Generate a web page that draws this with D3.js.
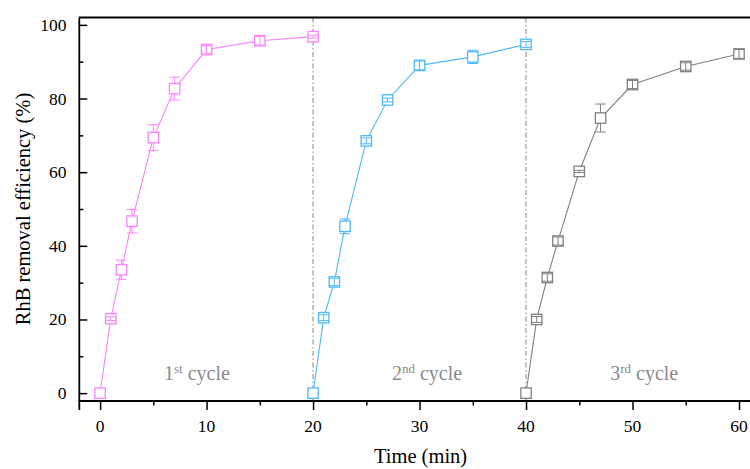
<!DOCTYPE html>
<html>
<head>
<meta charset="utf-8">
<script src="https://cdn.jsdelivr.net/npm/d3@7"></script>
<style>
  html, body { margin: 0; padding: 0; background: #fff; }
  svg { display: block; }
</style>
</head>
<body>
<svg id="chart" width="750" height="469" font-family="Liberation Serif, Times New Roman, serif"></svg>
<script>
// RhB removal efficiency over three consecutive adsorption cycles
const cycle1Time = [0, 1, 2, 3, 5, 7, 10, 15, 20];
const cycle1Eff  = [0, 20.2, 33.5, 46.7, 69.4, 82.7, 93.3, 95.7, 96.8];
const cycle1Err  = [0, 0.5, 2.6, 3.2, 3.5, 3.1, 1.0, 1.2, 0.4];

const cycle2Time = [20, 21, 22, 23, 25, 27, 30, 35, 40];
const cycle2Eff  = [0, 20.5, 30.2, 45.3, 68.5, 79.6, 89.0, 91.3, 94.7];
const cycle2Err  = [0, 0.8, 1.0, 2.0, 0.8, 0.5, 1.2, 1.8, 0.8];

const cycle3Time = [40, 41, 42, 43, 45, 47, 50, 55, 60];
const cycle3Eff  = [0, 20.0, 31.4, 41.3, 60.2, 74.7, 83.8, 88.7, 92.1];
const cycle3Err  = [0, 0.8, 1.0, 1.1, 0.3, 3.8, 1.1, 1.0, 1.2];

const cycleColors = ["#ff80ff", "#4db8ff", "#808080"];
const cycleNames  = ["1", "2", "3"];
const cycleSups   = ["st", "nd", "rd"];
const cycleWord   = " cycle";
const cycleBreaks = [20, 40];

const xTicks = [0, 10, 20, 30, 40, 50, 60];
const xMinorTicks = [5, 15, 25, 35, 45, 55];
const yTicks = [0, 20, 40, 60, 80, 100];
const yMinorTicks = [10, 30, 50, 70, 90];

const xTitle = "Time (min)";
const yTitle = "RhB removal efficiency (%)";

// layout
const plot = { left: 78.8, right: 760.3, top: 17.5, bottom: 400.5 };
const labelAnchors = [[9.1, 3.6], [30.7, 3.6], [51.1, 3.6]];
const serif = "Liberation Serif, Times New Roman, serif";

const svg = d3.select("#chart");
const x = d3.scaleLinear().domain([-2, 62]).range([plot.left, plot.right]);
const y = d3.scaleLinear().domain([-2, 102]).range([plot.bottom, plot.top]);

const series = [
  { t: cycle1Time, v: cycle1Eff, e: cycle1Err },
  { t: cycle2Time, v: cycle2Eff, e: cycle2Err },
  { t: cycle3Time, v: cycle3Eff, e: cycle3Err }
].map((s, i) => ({
  color: cycleColors[i],
  points: s.t.map((t, j) => ({ t, v: s.v[j], e: s.e[j] }))
}));

// cycle separators
svg.append("g").selectAll("line").data(cycleBreaks).join("line")
  .attr("x1", d => x(d)).attr("x2", d => x(d))
  .attr("y1", plot.top).attr("y2", plot.bottom)
  .attr("stroke", "#a8a8a8").attr("stroke-width", 1.4)
  .attr("stroke-dasharray", "5,2.5,1.5,2.5");

// cycle labels
const labels = svg.append("g").attr("fill", "#8a8a8a").attr("font-size", 20);
labelAnchors.forEach((p, i) => {
  const txt = labels.append("text")
    .attr("x", x(p[0])).attr("y", y(p[1]))
    .attr("text-anchor", "middle");
  txt.append("tspan").text(cycleNames[i]);
  txt.append("tspan").attr("font-size", 13).attr("dy", -7).text(cycleSups[i]);
  txt.append("tspan").attr("dy", 7).text(cycleWord);
});

const line = d3.line().x(d => x(d.t)).y(d => y(d.v));
const box = 10.4, half = box / 2;

series.forEach(s => {
  const g = svg.append("g");
  g.append("path").datum(s.points)
    .attr("d", line).attr("fill", "none")
    .attr("stroke", s.color).attr("stroke-width", 1.1);

  g.selectAll("rect").data(s.points).join("rect")
    .attr("x", d => x(d.t) - half).attr("y", d => y(d.v) - half)
    .attr("width", box).attr("height", box)
    .attr("fill", "#fff").attr("stroke", s.color).attr("stroke-width", 1.3);

  // error bars: stems stop at the marker edge unless fully inside it
  const eb = g.append("g").attr("stroke", s.color).attr("stroke-width", 1);
  s.points.filter(d => d.e > 0).forEach(d => {
    const cx = x(d.t), cy = y(d.v);
    const top = y(d.v + d.e), bot = y(d.v - d.e);
    const dpx = cy - top;
    if (dpx <= half) {
      eb.append("line").attr("x1", cx).attr("x2", cx).attr("y1", top).attr("y2", bot);
    } else {
      eb.append("line").attr("x1", cx).attr("x2", cx).attr("y1", top).attr("y2", cy - half);
      eb.append("line").attr("x1", cx).attr("x2", cx).attr("y1", cy + half).attr("y2", bot);
    }
    [top, bot].forEach(yy => eb.append("line")
      .attr("x1", cx - half).attr("x2", cx + half).attr("y1", yy).attr("y2", yy));
  });
});

// axis lines and tick marks
svg.append("g").attr("transform", `translate(0,${plot.bottom})`)
  .call(d3.axisBottom(x).tickValues(xTicks).tickFormat("").tickSize(9.5));
svg.append("g").attr("transform", `translate(0,${plot.bottom})`)
  .call(d3.axisBottom(x).tickValues(xMinorTicks).tickFormat("").tickSize(5))
  .call(g => g.select(".domain").remove());
svg.append("g").attr("transform", `translate(${plot.left},0)`)
  .call(d3.axisLeft(y).tickValues(yTicks).tickFormat("").tickSizeInner(-8.5).tickSizeOuter(0));
svg.append("g").attr("transform", `translate(${plot.left},0)`)
  .call(d3.axisLeft(y).tickValues(yMinorTicks).tickFormat("").tickSizeInner(-4.5).tickSizeOuter(0))
  .call(g => g.select(".domain").remove());

svg.selectAll(".domain").attr("stroke", "#000").attr("stroke-width", 1.8);
svg.selectAll(".tick line").attr("stroke", "#000").attr("stroke-width", 1.5);
svg.selectAll(".tick text").remove();

// tick labels
const fmt = d3.format("d");
const tickLabels = svg.append("g").attr("fill", "#000").attr("font-size", 17.5);
tickLabels.selectAll("text.xl").data(xTicks).join("text").attr("class", "xl")
  .attr("x", d => x(d)).attr("y", 432).attr("text-anchor", "middle").text(fmt);
tickLabels.selectAll("text.yl").data(yTicks).join("text").attr("class", "yl")
  .attr("x", plot.left - 12.3).attr("y", d => y(d) + 6)
  .attr("text-anchor", "end").text(fmt);

// top frame
svg.append("line").attr("x1", plot.left).attr("x2", plot.right)
  .attr("y1", plot.top).attr("y2", plot.top)
  .attr("stroke", "#000").attr("stroke-width", 1.8);

// axis titles
svg.append("text").attr("x", (plot.left + plot.right) / 2 + 1).attr("y", 462.5)
  .attr("text-anchor", "middle").attr("font-size", 20.5).attr("fill", "#000").text(xTitle);
svg.append("text")
  .attr("transform", `translate(29.5,${(plot.top + plot.bottom) / 2}) rotate(-90)`)
  .attr("text-anchor", "middle").attr("font-size", 20.5).attr("fill", "#000").text(yTitle);
</script>
</body>
</html>
